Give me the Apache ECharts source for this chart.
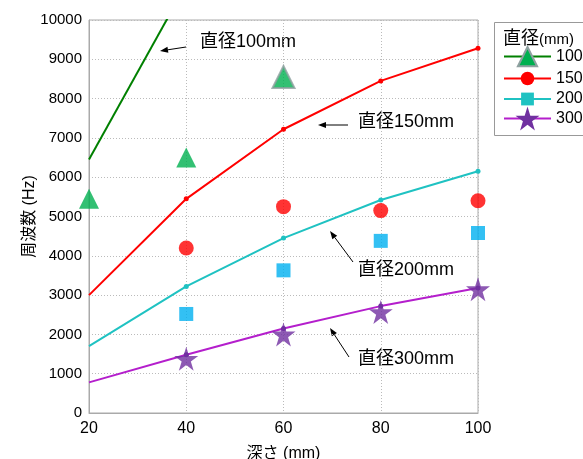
<!DOCTYPE html>
<html><head><meta charset="utf-8">
<script src="https://cdn.jsdelivr.net/npm/echarts@6/dist/echarts.min.js"></script>
<style>html,body{margin:0;padding:0;background:#fff}#c{width:583px;height:459px}</style>
</head><body><div id="c"></div>
<script>
// depths (mm)
var depths = [20, 40, 60, 80, 100];
// theory lines (Hz)
var line100 = [6450, 10900];
var line150 = [3000, 5450, 7220, 8450, 9280];
var line200 = [1700, 3220, 4450, 5420, 6150];
var line300 = [780, 1480, 2150, 2720, 3180];
// measured values
var meas100X = [20, 40, 60];
var meas100 = [5450, 6500, 8550];
var measX = [40, 60, 80, 100];
var meas150 = [4200, 5250, 5150, 5400];
var meas200 = [2520, 3630, 4380, 4580];
var meas300 = [1380, 2000, 2570, 3150];
var legendNames = ['100', '150', '200', '300'];

var FONT = 'Liberation Sans, Arial, "Noto Sans CJK JP", sans-serif';
var STAR = 'path://M50,0 L61.2,34.5 L97.6,34.5 L68.2,55.9 L79.4,90.5 L50,69.1 L20.6,90.5 L31.8,55.9 L2.4,34.5 L38.8,34.5 Z';

function lineData(vals) {
  return vals.map(function (v, i) {
    return { value: [depths[i], v], symbol: i === 0 ? 'none' : 'circle', symbolSize: 5 };
  });
}
function pairs(xs, ys) { return ys.map(function (v, i) { return [xs[i], v]; }); }

function arrow(x1, y1, x2, y2) {
  var ang = Math.atan2(y2 - y1, x2 - x1), L = 8, W = 3;
  var bx = x2 - L * Math.cos(ang), by = y2 - L * Math.sin(ang);
  var px = -Math.sin(ang) * W, py = Math.cos(ang) * W;
  return [
    { type: 'line', shape: { x1: x1, y1: y1, x2: bx, y2: by }, style: { stroke: '#000', lineWidth: 1 } },
    { type: 'polygon', shape: { points: [[x2, y2], [bx + px, by + py], [bx - px, by - py]] }, style: { fill: '#000' } }
  ];
}

var colors = { g: '#008000', gm: '#00b050', r: '#ff0000', c: '#1fc2c2', cm: '#00b0f0', p: '#b41ecc', pm: '#7030a0' };

var annStyle = { fontSize: 18, fontFamily: FONT, fill: '#000' };
var graphics = [
  { type: 'rect', shape: { x: 494.5, y: 22.5, width: 110, height: 113 }, style: { fill: '#fff', stroke: '#999', lineWidth: 1 }, z: 0 },
  { type: 'text', x: 503, y: 30, style: { text: '直径', fontSize: 18, fontFamily: FONT, fill: '#000' }, z: 1 },
  { type: 'text', x: 539, y: 32, style: { text: '(mm)', fontSize: 15, fontFamily: FONT, fill: '#000' }, z: 1 },
  { type: 'text', x: 200, y: 33, style: Object.assign({ text: '直径100mm' }, annStyle) },
  { type: 'text', x: 358, y: 113, style: Object.assign({ text: '直径150mm' }, annStyle) },
  { type: 'text', x: 358, y: 261, style: Object.assign({ text: '直径200mm' }, annStyle) },
  { type: 'text', x: 358, y: 350, style: Object.assign({ text: '直径300mm' }, annStyle) }
].concat(arrow(186, 47, 160, 51), arrow(348, 125, 318, 125), arrow(353, 262, 330, 231), arrow(349, 357, 330, 328));

// one legend per entry so each marker keeps its own size
var legendSizes = [24, 17, 16, 30];
var legendCenters = [58, 79, 99, 121.5];
var legends = legendNames.map(function (n, i) {
  return {
    data: [n], orient: 'vertical', left: 503, top: legendCenters[i] - legendSizes[i] / 2,
    padding: 0, itemWidth: 47, itemHeight: legendSizes[i],
    textStyle: { fontSize: 16, color: '#000' }
  };
});

var chart = echarts.init(document.getElementById('c'));
chart.setOption({
  animation: false,
  textStyle: { fontFamily: FONT },
  grid: { left: 89, right: 105, top: 20, bottom: 46, show: true, borderColor: '#aaa', borderWidth: 1, outerBoundsMode: 'none', containLabel: false },
  xAxis: {
    type: 'value', min: 20, max: 100, interval: 20,
    name: '深さ (mm)', nameLocation: 'middle', nameGap: 33, nameMoveOverlap: false,
    nameTextStyle: { fontSize: 16, color: '#000', fontFamily: FONT },
    axisLine: { lineStyle: { color: '#aaa' } }, axisTick: { show: false },
    axisLabel: { fontSize: 16, color: '#000', margin: 8 },
    splitLine: { lineStyle: { color: '#bbb', type: [1, 2] } }
  },
  yAxis: {
    type: 'value', min: 0, max: 10000, interval: 1000,
    name: '周波数 (Hz)', nameLocation: 'middle', nameGap: 51, nameMoveOverlap: false,
    nameTextStyle: { fontSize: 16, color: '#000', fontFamily: FONT },
    axisLine: { show: true, lineStyle: { color: '#aaa' } }, axisTick: { show: false },
    axisLabel: { fontSize: 15, color: '#000', margin: 7, formatter: function (v) { return String(v); } },
    splitLine: { lineStyle: { color: '#bbb', type: [1, 2] } }
  },
  legend: legends,
  graphic: graphics,
  series: [
    { name: '100', type: 'line', data: lineData(line100), symbol: 'triangle', symbolSize: 18,
      lineStyle: { color: colors.g, width: 2 }, itemStyle: { color: colors.gm, borderColor: '#8fa0a0', borderWidth: 1.5 }, z: 2 },
    { name: '150', type: 'line', data: lineData(line150), symbol: 'circle', symbolSize: 14,
      lineStyle: { color: colors.r, width: 2 }, itemStyle: { color: colors.r }, z: 2 },
    { name: '200', type: 'line', data: lineData(line200), symbol: 'rect', symbolSize: 13,
      lineStyle: { color: colors.c, width: 2 }, itemStyle: { color: colors.c }, z: 2 },
    { name: '300', type: 'line', data: lineData(line300), symbol: STAR, symbolSize: 22,
      lineStyle: { color: colors.p, width: 2 }, itemStyle: { color: colors.pm }, z: 2 },
    { name: 'm100', type: 'scatter', symbol: 'triangle', symbolSize: 20, itemStyle: { color: colors.gm },
      data: pairs(meas100X, meas100).map(function (d, i) {
        return i === 2 ? { value: d, symbolSize: 22, itemStyle: { borderColor: '#8fa0a0', borderWidth: 2 } } : d;
      }), z: 3 },
    { name: 'm150', type: 'scatter', symbol: 'circle', symbolSize: 15, itemStyle: { color: colors.r }, data: pairs(measX, meas150), z: 3 },
    { name: 'm200', type: 'scatter', symbol: 'rect', symbolSize: 14, itemStyle: { color: colors.cm }, data: pairs(measX, meas200), z: 3 },
    { name: 'm300', type: 'scatter', symbol: STAR, symbolSize: 24, itemStyle: { color: colors.pm }, data: pairs(measX, meas300), z: 3 }
  ]
});
</script></body></html>
